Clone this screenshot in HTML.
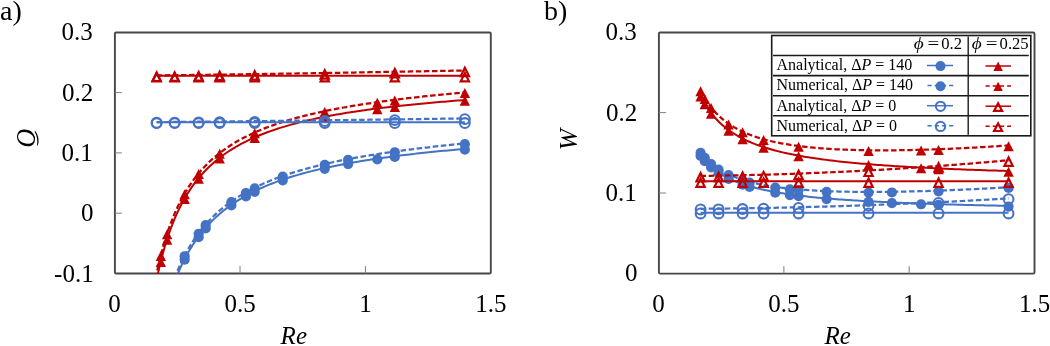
<!DOCTYPE html>
<html><head><meta charset="utf-8"><style>
html,body{margin:0;padding:0;background:#fff;width:1050px;height:346px;overflow:hidden;}
svg{display:block;will-change:transform;}
</style></head><body>
<svg width="1050" height="346" viewBox="0 0 1050 346">
<defs><clipPath id="ca"><rect x="114.9" y="32.5" width="375.9" height="241.0"/></clipPath>
<clipPath id="cb"><rect x="658.9" y="32.5" width="375.6" height="241.1"/></clipPath></defs>
<rect x="114.9" y="32.5" width="375.9" height="241.0" rx="1.3" ry="1.3" fill="none" stroke="#474747" stroke-width="1.9" stroke-linejoin="round"/>
<line x1="114.9" y1="213.20" x2="121.9" y2="213.20" stroke="#7f7f7f" stroke-width="1"/>
<line x1="114.9" y1="152.90" x2="121.9" y2="152.90" stroke="#7f7f7f" stroke-width="1"/>
<line x1="114.9" y1="92.60" x2="121.9" y2="92.60" stroke="#7f7f7f" stroke-width="1"/>
<line x1="240.00" y1="273.5" x2="240.00" y2="266.0" stroke="#7f7f7f" stroke-width="1"/>
<line x1="365.40" y1="273.5" x2="365.40" y2="266.0" stroke="#7f7f7f" stroke-width="1"/>
<text x="92.80" y="40.30" font-family="Liberation Serif" font-size="25" text-anchor="end">0.3</text>
<text x="93.20" y="100.60" font-family="Liberation Serif" font-size="25" text-anchor="end">0.2</text>
<text x="92.70" y="160.90" font-family="Liberation Serif" font-size="25" text-anchor="end">0.1</text>
<text x="93.50" y="221.20" font-family="Liberation Serif" font-size="25" text-anchor="end">0</text>
<text x="93.70" y="281.50" font-family="Liberation Serif" font-size="25" text-anchor="end">-0.1</text>
<text x="114.60" y="311.5" font-family="Liberation Serif" font-size="25" text-anchor="middle">0</text>
<text x="240.00" y="311.5" font-family="Liberation Serif" font-size="25" text-anchor="middle">0.5</text>
<text x="365.40" y="311.5" font-family="Liberation Serif" font-size="25" text-anchor="middle">1</text>
<text x="490.80" y="311.5" font-family="Liberation Serif" font-size="25" text-anchor="middle">1.5</text>
<text x="293.8" y="343.8" font-family="Liberation Serif" font-size="25" font-style="italic" text-anchor="middle">Re</text>
<text x="0" y="19.5" font-family="Liberation Serif" font-size="28">a)</text>
<clipPath id="qclip"><rect x="0" y="100" width="35.0" height="60"/></clipPath>
<g clip-path="url(#qclip)"><text transform="translate(34.6,138.4) rotate(-90) scale(1,1.08)" font-family="Liberation Serif" font-size="26" font-style="italic" text-anchor="middle">Q</text></g>
<path d="M35.2,130.7 Q40.2,137.5 37.8,145.6 L37.0,145.4 Q38.2,137.8 34.6,131.4 Z" fill="#000"/>
<g clip-path="url(#ca)">
</g>
<g>
<path d="M175.89,278.32 L178.30,272.49 L180.71,267.08 L183.11,262.05 L185.52,257.35 L187.93,252.97 L190.34,248.86 L192.75,245.01 L195.15,241.38 L197.56,237.96 L199.97,234.74 L202.38,231.69 L204.79,228.80 L207.19,226.06 L209.60,223.46 L212.01,220.98 L214.42,218.63 L216.83,216.38 L219.23,214.24 L221.64,212.19 L224.05,210.23 L226.46,208.36 L228.87,206.56 L231.27,204.84 L233.68,203.18 L236.09,201.59 L238.50,200.06 L240.91,198.59 L243.31,197.17 L245.72,195.81 L248.13,194.49 L250.54,193.22 L252.95,191.99 L255.35,190.80 L257.76,189.65 L260.17,188.54 L262.58,187.47 L264.99,186.43 L267.39,185.42 L269.80,184.44 L272.21,183.49 L274.62,182.57 L277.03,181.68 L279.43,180.81 L281.84,179.96 L284.25,179.14 L286.66,178.34 L289.07,177.56 L291.47,176.81 L293.88,176.07 L296.29,175.35 L298.70,174.65 L301.11,173.97 L303.51,173.30 L305.92,172.65 L308.33,172.02 L310.74,171.40 L313.15,170.80 L315.56,170.21 L317.96,169.63 L320.37,169.07 L322.78,168.52 L325.19,167.98 L327.60,167.45 L330.00,166.93 L332.41,166.43 L334.82,165.93 L337.23,165.45 L339.64,164.98 L342.04,164.51 L344.45,164.05 L346.86,163.61 L349.27,163.17 L351.68,162.74 L354.08,162.32 L356.49,161.91 L358.90,161.50 L361.31,161.10 L363.72,160.71 L366.12,160.33 L368.53,159.95 L370.94,159.58 L373.35,159.22 L375.76,158.86 L378.16,158.51 L380.57,158.17 L382.98,157.83 L385.39,157.49 L387.80,157.16 L390.20,156.84 L392.61,156.52 L395.02,156.21 L397.43,155.90 L399.84,155.60 L402.24,155.30 L404.65,155.01 L407.06,154.72 L409.47,154.44 L411.88,154.16 L414.28,153.88 L416.69,153.61 L419.10,153.34 L421.51,153.07 L423.92,152.81 L426.32,152.56 L428.73,152.30 L431.14,152.05 L433.55,151.81 L435.96,151.57 L438.36,151.33 L440.77,151.09 L443.18,150.86 L445.59,150.63 L448.00,150.40 L450.40,150.17 L452.81,149.95 L455.22,149.74 L457.63,149.52 L460.04,149.31 L462.44,149.10 L464.85,148.89" fill="none" stroke="#4472C4" stroke-width="2" clip-path="url(#ca)"/>
<circle cx="184.66" cy="259.71" r="5.10" fill="#4472C4"/>
<circle cx="198.66" cy="237.17" r="5.10" fill="#4472C4"/>
<circle cx="205.66" cy="228.48" r="5.10" fill="#4472C4"/>
<circle cx="231.36" cy="205.48" r="5.10" fill="#4472C4"/>
<circle cx="245.94" cy="196.39" r="5.10" fill="#4472C4"/>
<circle cx="254.71" cy="191.82" r="5.10" fill="#4472C4"/>
<circle cx="282.73" cy="180.36" r="5.10" fill="#4472C4"/>
<circle cx="324.74" cy="168.78" r="5.10" fill="#4472C4"/>
<circle cx="348.09" cy="164.08" r="5.10" fill="#4472C4"/>
<circle cx="377.30" cy="159.34" r="5.10" fill="#4472C4"/>
<circle cx="394.80" cy="156.94" r="5.10" fill="#4472C4"/>
<circle cx="464.85" cy="149.59" r="5.10" fill="#4472C4"/>
<path d="M174.48,278.32 L176.90,272.24 L179.32,266.60 L181.74,261.37 L184.16,256.50 L186.57,251.95 L188.99,247.70 L191.41,243.71 L193.83,239.96 L196.25,236.43 L198.67,233.10 L201.09,229.95 L203.51,226.97 L205.93,224.15 L208.35,221.47 L210.77,218.92 L213.19,216.50 L215.61,214.18 L218.03,211.98 L220.45,209.87 L222.87,207.86 L225.29,205.93 L227.71,204.08 L230.13,202.31 L232.55,200.60 L234.97,198.97 L237.39,197.39 L239.81,195.88 L242.23,194.42 L244.65,193.01 L247.07,191.65 L249.49,190.34 L251.91,189.08 L254.33,187.85 L256.75,186.67 L259.17,185.52 L261.59,184.41 L264.01,183.34 L266.43,182.29 L268.85,181.28 L271.27,180.30 L273.69,179.35 L276.11,178.42 L278.53,177.52 L280.95,176.64 L283.37,175.79 L285.79,174.96 L288.21,174.15 L290.63,173.36 L293.05,172.60 L295.47,171.85 L297.89,171.12 L300.31,170.41 L302.73,169.71 L305.15,169.03 L307.56,168.37 L309.98,167.72 L312.40,167.09 L314.82,166.47 L317.24,165.86 L319.66,165.27 L322.08,164.69 L324.50,164.12 L326.92,163.57 L329.34,163.02 L331.76,162.49 L334.18,161.97 L336.60,161.46 L339.02,160.95 L341.44,160.46 L343.86,159.98 L346.28,159.50 L348.70,159.04 L351.12,158.58 L353.54,158.13 L355.96,157.69 L358.38,157.26 L360.80,156.83 L363.22,156.41 L365.64,156.00 L368.06,155.60 L370.48,155.20 L372.90,154.81 L375.32,154.42 L377.74,154.04 L380.16,153.67 L382.58,153.30 L385.00,152.94 L387.42,152.59 L389.84,152.24 L392.26,151.89 L394.68,151.55 L397.10,151.22 L399.52,150.89 L401.94,150.56 L404.36,150.24 L406.78,149.92 L409.20,149.61 L411.62,149.30 L414.04,149.00 L416.46,148.70 L418.88,148.40 L421.30,148.11 L423.72,147.82 L426.14,147.54 L428.55,147.26 L430.97,146.98 L433.39,146.71 L435.81,146.44 L438.23,146.17 L440.65,145.91 L443.07,145.64 L445.49,145.39 L447.91,145.13 L450.33,144.88 L452.75,144.63 L455.17,144.39 L457.59,144.14 L460.01,143.90 L462.43,143.66 L464.85,143.43" fill="none" stroke="#4472C4" stroke-width="2.25" stroke-dasharray="5.5 2.6" clip-path="url(#ca)"/>
<circle cx="184.66" cy="256.23" r="5.10" fill="#4472C4"/>
<circle cx="198.66" cy="233.81" r="5.10" fill="#4472C4"/>
<circle cx="205.66" cy="225.16" r="5.10" fill="#4472C4"/>
<circle cx="231.36" cy="202.13" r="5.10" fill="#4472C4"/>
<circle cx="245.94" cy="192.98" r="5.10" fill="#4472C4"/>
<circle cx="254.71" cy="188.36" r="5.10" fill="#4472C4"/>
<circle cx="282.73" cy="176.71" r="5.10" fill="#4472C4"/>
<circle cx="324.74" cy="164.77" r="5.10" fill="#4472C4"/>
<circle cx="348.09" cy="159.85" r="5.10" fill="#4472C4"/>
<circle cx="394.80" cy="152.23" r="5.10" fill="#4472C4"/>
<circle cx="464.85" cy="144.13" r="5.10" fill="#4472C4"/>
<path d="M156.90,278.32 L159.47,266.79 L162.03,256.51 L164.60,247.28 L167.16,238.95 L169.73,231.39 L172.30,224.51 L174.86,218.21 L177.43,212.43 L180.00,207.09 L182.56,202.17 L185.13,197.59 L187.69,193.34 L190.26,189.38 L192.83,185.67 L195.39,182.21 L197.96,178.95 L200.53,175.89 L203.09,173.00 L205.66,170.28 L208.22,167.70 L210.79,165.27 L213.36,162.95 L215.92,160.76 L218.49,158.67 L221.06,156.68 L223.62,154.79 L226.19,152.98 L228.76,151.26 L231.32,149.61 L233.89,148.03 L236.45,146.51 L239.02,145.06 L241.59,143.67 L244.15,142.33 L246.72,141.04 L249.29,139.80 L251.85,138.61 L254.42,137.46 L256.98,136.35 L259.55,135.28 L262.12,134.25 L264.68,133.25 L267.25,132.29 L269.82,131.36 L272.38,130.45 L274.95,129.58 L277.51,128.73 L280.08,127.91 L282.65,127.11 L285.21,126.34 L287.78,125.59 L290.35,124.86 L292.91,124.16 L295.48,123.47 L298.04,122.80 L300.61,122.15 L303.18,121.52 L305.74,120.90 L308.31,120.30 L310.88,119.71 L313.44,119.14 L316.01,118.59 L318.57,118.05 L321.14,117.52 L323.71,117.00 L326.27,116.50 L328.84,116.01 L331.41,115.53 L333.97,115.06 L336.54,114.60 L339.10,114.15 L341.67,113.71 L344.24,113.28 L346.80,112.86 L349.37,112.45 L351.94,112.05 L354.50,111.65 L357.07,111.27 L359.63,110.89 L362.20,110.52 L364.77,110.16 L367.33,109.80 L369.90,109.45 L372.47,109.11 L375.03,108.78 L377.60,108.45 L380.17,108.12 L382.73,107.81 L385.30,107.50 L387.86,107.19 L390.43,106.89 L393.00,106.60 L395.56,106.31 L398.13,106.02 L400.70,105.74 L403.26,105.47 L405.83,105.20 L408.39,104.93 L410.96,104.67 L413.53,104.42 L416.09,104.16 L418.66,103.91 L421.23,103.67 L423.79,103.43 L426.36,103.19 L428.92,102.96 L431.49,102.73 L434.06,102.51 L436.62,102.28 L439.19,102.06 L441.76,101.85 L444.32,101.64 L446.89,101.43 L449.45,101.22 L452.02,101.02 L454.59,100.82 L457.15,100.62 L459.72,100.42 L462.29,100.23 L464.85,100.04" fill="none" stroke="#C00000" stroke-width="2" clip-path="url(#ca)"/>
<polygon points="160.82,256.91 166.02,266.91 155.62,266.91" fill="#C00000"/>
<polygon points="167.13,234.76 172.33,244.76 161.93,244.76" fill="#C00000"/>
<polygon points="184.66,194.11 189.86,204.11 179.46,204.11" fill="#C00000"/>
<polygon points="198.66,173.79 203.86,183.79 193.46,183.79" fill="#C00000"/>
<polygon points="219.68,153.44 224.88,163.44 214.48,163.44" fill="#C00000"/>
<polygon points="254.71,133.03 259.91,143.03 249.51,143.03" fill="#C00000"/>
<polygon points="324.74,112.50 329.94,122.50 319.54,122.50" fill="#C00000"/>
<polygon points="377.30,104.19 382.50,114.19 372.10,114.19" fill="#C00000"/>
<polygon points="394.80,102.09 400.00,112.09 389.60,112.09" fill="#C00000"/>
<polygon points="464.85,95.74 470.05,105.74 459.65,105.74" fill="#C00000"/>
<path d="M155.61,278.32 L158.19,266.25 L160.77,255.52 L163.34,245.92 L165.92,237.27 L168.50,229.45 L171.08,222.34 L173.65,215.84 L176.23,209.88 L178.81,204.40 L181.38,199.34 L183.96,194.64 L186.54,190.28 L189.11,186.22 L191.69,182.43 L194.27,178.87 L196.85,175.54 L199.42,172.41 L202.00,169.46 L204.58,166.67 L207.15,164.04 L209.73,161.54 L212.31,159.18 L214.88,156.93 L217.46,154.79 L220.04,152.76 L222.62,150.82 L225.19,148.97 L227.77,147.20 L230.35,145.50 L232.92,143.88 L235.50,142.33 L238.08,140.83 L240.65,139.40 L243.23,138.02 L245.81,136.69 L248.39,135.42 L250.96,134.19 L253.54,133.00 L256.12,131.85 L258.69,130.74 L261.27,129.67 L263.85,128.64 L266.42,127.64 L269.00,126.67 L271.58,125.73 L274.15,124.82 L276.73,123.93 L279.31,123.08 L281.89,122.24 L284.46,121.43 L287.04,120.65 L289.62,119.88 L292.19,119.14 L294.77,118.41 L297.35,117.71 L299.92,117.02 L302.50,116.35 L305.08,115.69 L307.66,115.06 L310.23,114.43 L312.81,113.83 L315.39,113.23 L317.96,112.65 L320.54,112.09 L323.12,111.53 L325.69,110.99 L328.27,110.46 L330.85,109.94 L333.43,109.44 L336.00,108.94 L338.58,108.45 L341.16,107.98 L343.73,107.51 L346.31,107.05 L348.89,106.60 L351.46,106.16 L354.04,105.73 L356.62,105.31 L359.20,104.89 L361.77,104.48 L364.35,104.08 L366.93,103.69 L369.50,103.30 L372.08,102.92 L374.66,102.54 L377.23,102.18 L379.81,101.81 L382.39,101.46 L384.97,101.11 L387.54,100.76 L390.12,100.42 L392.70,100.09 L395.27,99.76 L397.85,99.44 L400.43,99.12 L403.00,98.81 L405.58,98.50 L408.16,98.19 L410.74,97.89 L413.31,97.60 L415.89,97.30 L418.47,97.02 L421.04,96.73 L423.62,96.45 L426.20,96.18 L428.77,95.90 L431.35,95.63 L433.93,95.37 L436.51,95.11 L439.08,94.85 L441.66,94.59 L444.24,94.34 L446.81,94.09 L449.39,93.84 L451.97,93.60 L454.54,93.36 L457.12,93.12 L459.70,92.89 L462.27,92.65 L464.85,92.42" fill="none" stroke="#C00000" stroke-width="2.25" stroke-dasharray="5.5 2.6" clip-path="url(#ca)"/>
<polygon points="160.82,251.00 166.02,261.00 155.62,261.00" fill="#C00000"/>
<polygon points="167.13,229.21 172.33,239.21 161.93,239.21" fill="#C00000"/>
<polygon points="184.66,189.14 189.86,199.14 179.46,199.14" fill="#C00000"/>
<polygon points="198.66,169.02 203.86,179.02 193.46,179.02" fill="#C00000"/>
<polygon points="219.68,148.73 224.88,158.73 214.48,158.73" fill="#C00000"/>
<polygon points="254.71,128.17 259.91,138.17 249.51,138.17" fill="#C00000"/>
<polygon points="324.74,106.89 329.94,116.89 319.54,116.89" fill="#C00000"/>
<polygon points="377.30,97.87 382.50,107.87 372.10,107.87" fill="#C00000"/>
<polygon points="394.80,95.52 400.00,105.52 389.60,105.52" fill="#C00000"/>
<polygon points="464.85,88.12 470.05,98.12 459.65,98.12" fill="#C00000"/>
<path d="M156.63,122.33 L159.20,122.33 L161.77,122.33 L164.34,122.33 L166.90,122.33 L169.47,122.33 L172.04,122.33 L174.61,122.33 L177.18,122.33 L179.75,122.33 L182.32,122.33 L184.88,122.33 L187.45,122.33 L190.02,122.33 L192.59,122.33 L195.16,122.33 L197.73,122.33 L200.29,122.33 L202.86,122.33 L205.43,122.33 L208.00,122.33 L210.57,122.33 L213.14,122.33 L215.71,122.33 L218.27,122.33 L220.84,122.33 L223.41,122.33 L225.98,122.33 L228.55,122.33 L231.12,122.33 L233.69,122.33 L236.25,122.33 L238.82,122.33 L241.39,122.33 L243.96,122.33 L246.53,122.33 L249.10,122.33 L251.67,122.33 L254.23,122.33 L256.80,122.33 L259.37,122.33 L261.94,122.33 L264.51,122.33 L267.08,122.33 L269.64,122.33 L272.21,122.33 L274.78,122.33 L277.35,122.33 L279.92,122.33 L282.49,122.33 L285.06,122.33 L287.62,122.33 L290.19,122.33 L292.76,122.33 L295.33,122.33 L297.90,122.33 L300.47,122.33 L303.04,122.33 L305.60,122.33 L308.17,122.33 L310.74,122.33 L313.31,122.33 L315.88,122.33 L318.45,122.33 L321.02,122.33 L323.58,122.33 L326.15,122.33 L328.72,122.33 L331.29,122.33 L333.86,122.33 L336.43,122.33 L338.99,122.33 L341.56,122.33 L344.13,122.33 L346.70,122.33 L349.27,122.33 L351.84,122.33 L354.41,122.33 L356.97,122.33 L359.54,122.33 L362.11,122.33 L364.68,122.33 L367.25,122.33 L369.82,122.33 L372.39,122.33 L374.95,122.33 L377.52,122.33 L380.09,122.33 L382.66,122.33 L385.23,122.33 L387.80,122.33 L390.36,122.33 L392.93,122.33 L395.50,122.33 L398.07,122.33 L400.64,122.33 L403.21,122.33 L405.78,122.33 L408.34,122.33 L410.91,122.33 L413.48,122.33 L416.05,122.33 L418.62,122.33 L421.19,122.33 L423.76,122.33 L426.32,122.33 L428.89,122.33 L431.46,122.33 L434.03,122.33 L436.60,122.33 L439.17,122.33 L441.74,122.33 L444.30,122.33 L446.87,122.33 L449.44,122.33 L452.01,122.33 L454.58,122.33 L457.15,122.33 L459.71,122.33 L462.28,122.33 L464.85,122.33" fill="none" stroke="#4472C4" stroke-width="2" clip-path="url(#ca)"/>
<circle cx="156.63" cy="123.03" r="4.90" fill="none" stroke="#4472C4" stroke-width="2.05"/>
<circle cx="174.64" cy="123.03" r="4.90" fill="none" stroke="#4472C4" stroke-width="2.05"/>
<circle cx="198.66" cy="123.03" r="4.90" fill="none" stroke="#4472C4" stroke-width="2.05"/>
<circle cx="219.68" cy="123.03" r="4.90" fill="none" stroke="#4472C4" stroke-width="2.05"/>
<circle cx="254.71" cy="123.03" r="4.90" fill="none" stroke="#4472C4" stroke-width="2.05"/>
<circle cx="324.74" cy="123.03" r="4.90" fill="none" stroke="#4472C4" stroke-width="2.05"/>
<circle cx="394.80" cy="123.03" r="4.90" fill="none" stroke="#4472C4" stroke-width="2.05"/>
<circle cx="464.85" cy="123.03" r="4.90" fill="none" stroke="#4472C4" stroke-width="2.05"/>
<path d="M156.63,122.08 L159.20,122.06 L161.77,122.04 L164.34,122.02 L166.90,122.00 L169.47,121.98 L172.04,121.95 L174.61,121.93 L177.18,121.91 L179.75,121.89 L182.32,121.87 L184.88,121.84 L187.45,121.82 L190.02,121.80 L192.59,121.77 L195.16,121.75 L197.73,121.72 L200.29,121.70 L202.86,121.67 L205.43,121.65 L208.00,121.62 L210.57,121.60 L213.14,121.57 L215.71,121.55 L218.27,121.52 L220.84,121.50 L223.41,121.47 L225.98,121.44 L228.55,121.42 L231.12,121.39 L233.69,121.36 L236.25,121.34 L238.82,121.31 L241.39,121.28 L243.96,121.25 L246.53,121.23 L249.10,121.20 L251.67,121.17 L254.23,121.14 L256.80,121.11 L259.37,121.09 L261.94,121.06 L264.51,121.03 L267.08,121.00 L269.64,120.97 L272.21,120.94 L274.78,120.91 L277.35,120.88 L279.92,120.85 L282.49,120.82 L285.06,120.79 L287.62,120.76 L290.19,120.73 L292.76,120.70 L295.33,120.67 L297.90,120.64 L300.47,120.61 L303.04,120.58 L305.60,120.55 L308.17,120.51 L310.74,120.48 L313.31,120.45 L315.88,120.42 L318.45,120.39 L321.02,120.36 L323.58,120.32 L326.15,120.29 L328.72,120.26 L331.29,120.23 L333.86,120.20 L336.43,120.16 L338.99,120.13 L341.56,120.10 L344.13,120.07 L346.70,120.03 L349.27,120.00 L351.84,119.97 L354.41,119.93 L356.97,119.90 L359.54,119.87 L362.11,119.83 L364.68,119.80 L367.25,119.76 L369.82,119.73 L372.39,119.70 L374.95,119.66 L377.52,119.63 L380.09,119.59 L382.66,119.56 L385.23,119.52 L387.80,119.49 L390.36,119.46 L392.93,119.42 L395.50,119.39 L398.07,119.35 L400.64,119.32 L403.21,119.28 L405.78,119.25 L408.34,119.21 L410.91,119.17 L413.48,119.14 L416.05,119.10 L418.62,119.07 L421.19,119.03 L423.76,119.00 L426.32,118.96 L428.89,118.92 L431.46,118.89 L434.03,118.85 L436.60,118.81 L439.17,118.78 L441.74,118.74 L444.30,118.70 L446.87,118.67 L449.44,118.63 L452.01,118.59 L454.58,118.56 L457.15,118.52 L459.71,118.48 L462.28,118.45 L464.85,118.41" fill="none" stroke="#4472C4" stroke-width="2.25" stroke-dasharray="5.5 2.6" clip-path="url(#ca)"/>
<circle cx="156.63" cy="122.78" r="4.90" fill="none" stroke="#4472C4" stroke-width="2.05"/>
<circle cx="174.64" cy="122.63" r="4.90" fill="none" stroke="#4472C4" stroke-width="2.05"/>
<circle cx="198.66" cy="122.41" r="4.90" fill="none" stroke="#4472C4" stroke-width="2.05"/>
<circle cx="219.68" cy="122.21" r="4.90" fill="none" stroke="#4472C4" stroke-width="2.05"/>
<circle cx="254.71" cy="121.84" r="4.90" fill="none" stroke="#4472C4" stroke-width="2.05"/>
<circle cx="324.74" cy="121.01" r="4.90" fill="none" stroke="#4472C4" stroke-width="2.05"/>
<circle cx="394.80" cy="120.10" r="4.90" fill="none" stroke="#4472C4" stroke-width="2.05"/>
<circle cx="464.85" cy="119.11" r="4.90" fill="none" stroke="#4472C4" stroke-width="2.05"/>
<path d="M156.63,75.72 L159.20,75.72 L161.77,75.72 L164.34,75.72 L166.90,75.72 L169.47,75.72 L172.04,75.72 L174.61,75.72 L177.18,75.72 L179.75,75.72 L182.32,75.72 L184.88,75.72 L187.45,75.72 L190.02,75.72 L192.59,75.72 L195.16,75.72 L197.73,75.72 L200.29,75.72 L202.86,75.72 L205.43,75.72 L208.00,75.72 L210.57,75.72 L213.14,75.72 L215.71,75.72 L218.27,75.72 L220.84,75.72 L223.41,75.72 L225.98,75.72 L228.55,75.72 L231.12,75.72 L233.69,75.72 L236.25,75.72 L238.82,75.72 L241.39,75.72 L243.96,75.72 L246.53,75.72 L249.10,75.72 L251.67,75.72 L254.23,75.72 L256.80,75.72 L259.37,75.72 L261.94,75.72 L264.51,75.72 L267.08,75.72 L269.64,75.72 L272.21,75.72 L274.78,75.72 L277.35,75.72 L279.92,75.72 L282.49,75.72 L285.06,75.72 L287.62,75.72 L290.19,75.72 L292.76,75.72 L295.33,75.72 L297.90,75.72 L300.47,75.72 L303.04,75.72 L305.60,75.72 L308.17,75.72 L310.74,75.72 L313.31,75.72 L315.88,75.72 L318.45,75.72 L321.02,75.72 L323.58,75.72 L326.15,75.72 L328.72,75.72 L331.29,75.72 L333.86,75.72 L336.43,75.72 L338.99,75.72 L341.56,75.72 L344.13,75.72 L346.70,75.72 L349.27,75.72 L351.84,75.72 L354.41,75.72 L356.97,75.72 L359.54,75.72 L362.11,75.72 L364.68,75.72 L367.25,75.72 L369.82,75.72 L372.39,75.72 L374.95,75.72 L377.52,75.72 L380.09,75.72 L382.66,75.72 L385.23,75.72 L387.80,75.72 L390.36,75.72 L392.93,75.72 L395.50,75.72 L398.07,75.72 L400.64,75.72 L403.21,75.72 L405.78,75.72 L408.34,75.72 L410.91,75.72 L413.48,75.72 L416.05,75.72 L418.62,75.72 L421.19,75.72 L423.76,75.72 L426.32,75.72 L428.89,75.72 L431.46,75.72 L434.03,75.72 L436.60,75.72 L439.17,75.72 L441.74,75.72 L444.30,75.72 L446.87,75.72 L449.44,75.72 L452.01,75.72 L454.58,75.72 L457.15,75.72 L459.71,75.72 L462.28,75.72 L464.85,75.72" fill="none" stroke="#C00000" stroke-width="2" clip-path="url(#ca)"/>
<polygon points="156.63,72.91 160.76,81.32 152.50,81.32" fill="none" stroke="#C00000" stroke-width="2.20" stroke-linejoin="miter"/>
<polygon points="174.64,72.91 178.78,81.32 170.51,81.32" fill="none" stroke="#C00000" stroke-width="2.20" stroke-linejoin="miter"/>
<polygon points="198.66,72.91 202.79,81.32 194.53,81.32" fill="none" stroke="#C00000" stroke-width="2.20" stroke-linejoin="miter"/>
<polygon points="219.68,72.91 223.82,81.32 215.55,81.32" fill="none" stroke="#C00000" stroke-width="2.20" stroke-linejoin="miter"/>
<polygon points="254.71,72.91 258.84,81.32 250.58,81.32" fill="none" stroke="#C00000" stroke-width="2.20" stroke-linejoin="miter"/>
<polygon points="324.74,72.91 328.87,81.32 320.61,81.32" fill="none" stroke="#C00000" stroke-width="2.20" stroke-linejoin="miter"/>
<polygon points="394.80,72.91 398.93,81.32 390.66,81.32" fill="none" stroke="#C00000" stroke-width="2.20" stroke-linejoin="miter"/>
<polygon points="464.85,72.91 468.99,81.32 460.72,81.32" fill="none" stroke="#C00000" stroke-width="2.20" stroke-linejoin="miter"/>
<path d="M156.63,75.38 L159.20,75.36 L161.77,75.33 L164.34,75.30 L166.90,75.27 L169.47,75.24 L172.04,75.22 L174.61,75.19 L177.18,75.16 L179.75,75.13 L182.32,75.10 L184.88,75.07 L187.45,75.03 L190.02,75.00 L192.59,74.97 L195.16,74.94 L197.73,74.91 L200.29,74.87 L202.86,74.84 L205.43,74.81 L208.00,74.77 L210.57,74.74 L213.14,74.71 L215.71,74.67 L218.27,74.64 L220.84,74.60 L223.41,74.57 L225.98,74.53 L228.55,74.50 L231.12,74.46 L233.69,74.43 L236.25,74.39 L238.82,74.35 L241.39,74.32 L243.96,74.28 L246.53,74.24 L249.10,74.20 L251.67,74.17 L254.23,74.13 L256.80,74.09 L259.37,74.05 L261.94,74.01 L264.51,73.98 L267.08,73.94 L269.64,73.90 L272.21,73.86 L274.78,73.82 L277.35,73.78 L279.92,73.74 L282.49,73.70 L285.06,73.66 L287.62,73.62 L290.19,73.58 L292.76,73.54 L295.33,73.50 L297.90,73.46 L300.47,73.41 L303.04,73.37 L305.60,73.33 L308.17,73.29 L310.74,73.25 L313.31,73.21 L315.88,73.16 L318.45,73.12 L321.02,73.08 L323.58,73.04 L326.15,72.99 L328.72,72.95 L331.29,72.91 L333.86,72.86 L336.43,72.82 L338.99,72.78 L341.56,72.73 L344.13,72.69 L346.70,72.64 L349.27,72.60 L351.84,72.55 L354.41,72.51 L356.97,72.47 L359.54,72.42 L362.11,72.38 L364.68,72.33 L367.25,72.29 L369.82,72.24 L372.39,72.19 L374.95,72.15 L377.52,72.10 L380.09,72.06 L382.66,72.01 L385.23,71.96 L387.80,71.92 L390.36,71.87 L392.93,71.82 L395.50,71.78 L398.07,71.73 L400.64,71.68 L403.21,71.64 L405.78,71.59 L408.34,71.54 L410.91,71.49 L413.48,71.45 L416.05,71.40 L418.62,71.35 L421.19,71.30 L423.76,71.26 L426.32,71.21 L428.89,71.16 L431.46,71.11 L434.03,71.06 L436.60,71.01 L439.17,70.96 L441.74,70.92 L444.30,70.87 L446.87,70.82 L449.44,70.77 L452.01,70.72 L454.58,70.67 L457.15,70.62 L459.71,70.57 L462.28,70.52 L464.85,70.47" fill="none" stroke="#C00000" stroke-width="2.25" stroke-dasharray="5.5 2.6" clip-path="url(#ca)"/>
<polygon points="156.63,72.58 160.76,80.98 152.50,80.98" fill="none" stroke="#C00000" stroke-width="2.20" stroke-linejoin="miter"/>
<polygon points="174.64,72.38 178.78,80.79 170.51,80.79" fill="none" stroke="#C00000" stroke-width="2.20" stroke-linejoin="miter"/>
<polygon points="198.66,72.09 202.79,80.50 194.53,80.50" fill="none" stroke="#C00000" stroke-width="2.20" stroke-linejoin="miter"/>
<polygon points="219.68,71.81 223.82,80.22 215.55,80.22" fill="none" stroke="#C00000" stroke-width="2.20" stroke-linejoin="miter"/>
<polygon points="254.71,71.31 258.84,79.72 250.58,79.72" fill="none" stroke="#C00000" stroke-width="2.20" stroke-linejoin="miter"/>
<polygon points="324.74,70.21 328.87,78.62 320.61,78.62" fill="none" stroke="#C00000" stroke-width="2.20" stroke-linejoin="miter"/>
<polygon points="394.80,68.98 398.93,77.39 390.66,77.39" fill="none" stroke="#C00000" stroke-width="2.20" stroke-linejoin="miter"/>
<polygon points="464.85,67.66 468.99,76.07 460.72,76.07" fill="none" stroke="#C00000" stroke-width="2.20" stroke-linejoin="miter"/>
</g>
<rect x="658.9" y="32.5" width="375.6" height="241.1" rx="1.3" ry="1.3" fill="none" stroke="#474747" stroke-width="1.9" stroke-linejoin="round"/>
<line x1="658.9" y1="193.00" x2="665.9" y2="193.00" stroke="#7f7f7f" stroke-width="1"/>
<line x1="658.9" y1="112.60" x2="665.9" y2="112.60" stroke="#7f7f7f" stroke-width="1"/>
<line x1="783.90" y1="273.6" x2="783.90" y2="266.1" stroke="#7f7f7f" stroke-width="1"/>
<line x1="909.20" y1="273.6" x2="909.20" y2="266.1" stroke="#7f7f7f" stroke-width="1"/>
<text x="636.80" y="40.20" font-family="Liberation Serif" font-size="25" text-anchor="end">0.3</text>
<text x="637.20" y="120.60" font-family="Liberation Serif" font-size="25" text-anchor="end">0.2</text>
<text x="636.70" y="201.00" font-family="Liberation Serif" font-size="25" text-anchor="end">0.1</text>
<text x="637.50" y="281.40" font-family="Liberation Serif" font-size="25" text-anchor="end">0</text>
<text x="658.60" y="311.5" font-family="Liberation Serif" font-size="25" text-anchor="middle">0</text>
<text x="783.90" y="311.5" font-family="Liberation Serif" font-size="25" text-anchor="middle">0.5</text>
<text x="909.20" y="311.5" font-family="Liberation Serif" font-size="25" text-anchor="middle">1</text>
<text x="1034.50" y="311.5" font-family="Liberation Serif" font-size="25" text-anchor="middle">1.5</text>
<text x="837.6" y="343.8" font-family="Liberation Serif" font-size="25" font-style="italic" text-anchor="middle">Re</text>
<text x="544" y="19.5" font-family="Liberation Serif" font-size="28">b)</text>
<text transform="translate(576.8,139.5) rotate(-90)" font-family="Liberation Serif" font-size="25.5" font-style="italic" text-anchor="middle">W</text>
<path d="M700.60,155.21 L703.16,158.52 L705.73,161.48 L708.30,164.13 L710.86,166.52 L713.43,168.68 L716.00,170.65 L718.56,172.46 L721.13,174.11 L723.69,175.64 L726.26,177.04 L728.83,178.35 L731.39,179.56 L733.96,180.70 L736.53,181.75 L739.09,182.74 L741.66,183.67 L744.23,184.54 L746.79,185.36 L749.36,186.14 L751.93,186.87 L754.49,187.56 L757.06,188.22 L759.63,188.85 L762.19,189.44 L764.76,190.00 L767.32,190.54 L769.89,191.05 L772.46,191.54 L775.02,192.01 L777.59,192.46 L780.16,192.89 L782.72,193.30 L785.29,193.69 L787.86,194.07 L790.42,194.44 L792.99,194.79 L795.56,195.12 L798.12,195.45 L800.69,195.76 L803.26,196.06 L805.82,196.36 L808.39,196.64 L810.95,196.91 L813.52,197.17 L816.09,197.43 L818.65,197.67 L821.22,197.91 L823.79,198.14 L826.35,198.37 L828.92,198.58 L831.49,198.79 L834.05,199.00 L836.62,199.20 L839.19,199.39 L841.75,199.58 L844.32,199.76 L846.89,199.94 L849.45,200.11 L852.02,200.28 L854.58,200.44 L857.15,200.60 L859.72,200.76 L862.28,200.91 L864.85,201.06 L867.42,201.20 L869.98,201.34 L872.55,201.48 L875.12,201.61 L877.68,201.74 L880.25,201.87 L882.82,202.00 L885.38,202.12 L887.95,202.24 L890.52,202.35 L893.08,202.47 L895.65,202.58 L898.21,202.69 L900.78,202.80 L903.35,202.90 L905.91,203.00 L908.48,203.10 L911.05,203.20 L913.61,203.30 L916.18,203.39 L918.75,203.48 L921.31,203.58 L923.88,203.66 L926.45,203.75 L929.01,203.84 L931.58,203.92 L934.15,204.00 L936.71,204.08 L939.28,204.16 L941.84,204.24 L944.41,204.32 L946.98,204.39 L949.54,204.47 L952.11,204.54 L954.68,204.61 L957.24,204.68 L959.81,204.75 L962.38,204.82 L964.94,204.89 L967.51,204.95 L970.08,205.02 L972.64,205.08 L975.21,205.14 L977.78,205.20 L980.34,205.26 L982.91,205.32 L985.47,205.38 L988.04,205.44 L990.61,205.50 L993.17,205.55 L995.74,205.61 L998.31,205.66 L1000.87,205.71 L1003.44,205.77 L1006.01,205.82 L1008.57,205.87" fill="none" stroke="#4472C4" stroke-width="2"/>
<circle cx="700.60" cy="155.91" r="5.10" fill="#4472C4"/>
<circle cx="704.79" cy="161.13" r="5.10" fill="#4472C4"/>
<circle cx="711.09" cy="167.41" r="5.10" fill="#4472C4"/>
<circle cx="718.60" cy="173.18" r="5.10" fill="#4472C4"/>
<circle cx="728.60" cy="178.94" r="5.10" fill="#4472C4"/>
<circle cx="742.59" cy="184.69" r="5.10" fill="#4472C4"/>
<circle cx="749.59" cy="186.91" r="5.10" fill="#4472C4"/>
<circle cx="775.27" cy="192.75" r="5.10" fill="#4472C4"/>
<circle cx="789.83" cy="195.05" r="5.10" fill="#4472C4"/>
<circle cx="798.60" cy="196.21" r="5.10" fill="#4472C4"/>
<circle cx="826.59" cy="199.09" r="5.10" fill="#4472C4"/>
<circle cx="868.57" cy="201.96" r="5.10" fill="#4472C4"/>
<circle cx="891.91" cy="203.12" r="5.10" fill="#4472C4"/>
<circle cx="921.09" cy="204.27" r="5.10" fill="#4472C4"/>
<circle cx="938.57" cy="204.84" r="5.10" fill="#4472C4"/>
<circle cx="1008.57" cy="206.57" r="5.10" fill="#4472C4"/>
<path d="M700.60,152.09 L703.16,155.35 L705.73,158.25 L708.30,160.84 L710.86,163.17 L713.43,165.28 L716.00,167.19 L718.56,168.93 L721.13,170.52 L723.69,171.98 L726.26,173.32 L728.83,174.56 L731.39,175.71 L733.96,176.77 L736.53,177.76 L739.09,178.67 L741.66,179.53 L744.23,180.33 L746.79,181.07 L749.36,181.77 L751.93,182.43 L754.49,183.04 L757.06,183.62 L759.63,184.16 L762.19,184.67 L764.76,185.15 L767.32,185.60 L769.89,186.02 L772.46,186.43 L775.02,186.80 L777.59,187.16 L780.16,187.50 L782.72,187.82 L785.29,188.12 L787.86,188.40 L790.42,188.66 L792.99,188.92 L795.56,189.15 L798.12,189.38 L800.69,189.59 L803.26,189.79 L805.82,189.97 L808.39,190.15 L810.95,190.31 L813.52,190.47 L816.09,190.61 L818.65,190.75 L821.22,190.87 L823.79,190.99 L826.35,191.10 L828.92,191.20 L831.49,191.29 L834.05,191.38 L836.62,191.46 L839.19,191.53 L841.75,191.59 L844.32,191.65 L846.89,191.71 L849.45,191.75 L852.02,191.79 L854.58,191.83 L857.15,191.86 L859.72,191.88 L862.28,191.90 L864.85,191.91 L867.42,191.92 L869.98,191.93 L872.55,191.92 L875.12,191.92 L877.68,191.91 L880.25,191.90 L882.82,191.88 L885.38,191.86 L887.95,191.83 L890.52,191.80 L893.08,191.77 L895.65,191.73 L898.21,191.69 L900.78,191.64 L903.35,191.60 L905.91,191.54 L908.48,191.49 L911.05,191.43 L913.61,191.37 L916.18,191.30 L918.75,191.24 L921.31,191.16 L923.88,191.09 L926.45,191.01 L929.01,190.93 L931.58,190.85 L934.15,190.77 L936.71,190.68 L939.28,190.59 L941.84,190.49 L944.41,190.40 L946.98,190.30 L949.54,190.19 L952.11,190.09 L954.68,189.98 L957.24,189.87 L959.81,189.76 L962.38,189.65 L964.94,189.53 L967.51,189.41 L970.08,189.29 L972.64,189.17 L975.21,189.04 L977.78,188.91 L980.34,188.78 L982.91,188.65 L985.47,188.52 L988.04,188.38 L990.61,188.24 L993.17,188.10 L995.74,187.95 L998.31,187.81 L1000.87,187.66 L1003.44,187.51 L1006.01,187.36 L1008.57,187.21" fill="none" stroke="#4472C4" stroke-width="2.25" stroke-dasharray="5.5 2.6"/>
<circle cx="700.60" cy="152.79" r="5.10" fill="#4472C4"/>
<circle cx="704.79" cy="157.92" r="5.10" fill="#4472C4"/>
<circle cx="711.09" cy="164.06" r="5.10" fill="#4472C4"/>
<circle cx="718.60" cy="169.65" r="5.10" fill="#4472C4"/>
<circle cx="728.60" cy="175.16" r="5.10" fill="#4472C4"/>
<circle cx="742.59" cy="180.53" r="5.10" fill="#4472C4"/>
<circle cx="749.59" cy="182.53" r="5.10" fill="#4472C4"/>
<circle cx="775.27" cy="187.54" r="5.10" fill="#4472C4"/>
<circle cx="789.83" cy="189.30" r="5.10" fill="#4472C4"/>
<circle cx="798.60" cy="190.12" r="5.10" fill="#4472C4"/>
<circle cx="826.59" cy="191.81" r="5.10" fill="#4472C4"/>
<circle cx="868.57" cy="192.62" r="5.10" fill="#4472C4"/>
<circle cx="891.91" cy="192.48" r="5.10" fill="#4472C4"/>
<circle cx="938.57" cy="191.31" r="5.10" fill="#4472C4"/>
<circle cx="1008.57" cy="187.91" r="5.10" fill="#4472C4"/>
<path d="M700.60,95.86 L703.16,100.78 L705.73,105.16 L708.30,109.09 L710.86,112.64 L713.43,115.85 L716.00,118.78 L718.56,121.45 L721.13,123.91 L723.69,126.17 L726.26,128.26 L728.83,130.19 L731.39,131.99 L733.96,133.67 L736.53,135.24 L739.09,136.71 L741.66,138.08 L744.23,139.38 L746.79,140.60 L749.36,141.75 L751.93,142.83 L754.49,143.86 L757.06,144.84 L759.63,145.76 L762.19,146.64 L764.76,147.48 L767.32,148.28 L769.89,149.04 L772.46,149.76 L775.02,150.46 L777.59,151.12 L780.16,151.76 L782.72,152.37 L785.29,152.95 L787.86,153.52 L790.42,154.06 L792.99,154.58 L795.56,155.08 L798.12,155.56 L800.69,156.02 L803.26,156.47 L805.82,156.90 L808.39,157.32 L810.95,157.72 L813.52,158.11 L816.09,158.49 L818.65,158.85 L821.22,159.21 L823.79,159.55 L826.35,159.88 L828.92,160.20 L831.49,160.52 L834.05,160.82 L836.62,161.12 L839.19,161.40 L841.75,161.68 L844.32,161.95 L846.89,162.21 L849.45,162.47 L852.02,162.72 L854.58,162.96 L857.15,163.20 L859.72,163.43 L862.28,163.65 L864.85,163.87 L867.42,164.09 L869.98,164.30 L872.55,164.50 L875.12,164.70 L877.68,164.89 L880.25,165.08 L882.82,165.27 L885.38,165.45 L887.95,165.62 L890.52,165.80 L893.08,165.97 L895.65,166.13 L898.21,166.29 L900.78,166.45 L903.35,166.61 L905.91,166.76 L908.48,166.91 L911.05,167.06 L913.61,167.20 L916.18,167.34 L918.75,167.48 L921.31,167.61 L923.88,167.74 L926.45,167.87 L929.01,168.00 L931.58,168.12 L934.15,168.25 L936.71,168.37 L939.28,168.48 L941.84,168.60 L944.41,168.71 L946.98,168.83 L949.54,168.93 L952.11,169.04 L954.68,169.15 L957.24,169.25 L959.81,169.35 L962.38,169.46 L964.94,169.55 L967.51,169.65 L970.08,169.75 L972.64,169.84 L975.21,169.93 L977.78,170.03 L980.34,170.11 L982.91,170.20 L985.47,170.29 L988.04,170.38 L990.61,170.46 L993.17,170.54 L995.74,170.62 L998.31,170.70 L1000.87,170.78 L1003.44,170.86 L1006.01,170.94 L1008.57,171.01" fill="none" stroke="#C00000" stroke-width="2"/>
<polygon points="700.60,91.56 705.80,101.56 695.40,101.56" fill="#C00000"/>
<polygon points="704.79,99.31 709.99,109.31 699.59,109.31" fill="#C00000"/>
<polygon points="711.09,108.63 716.29,118.63 705.89,118.63" fill="#C00000"/>
<polygon points="728.60,125.73 733.80,135.73 723.40,135.73" fill="#C00000"/>
<polygon points="742.59,134.26 747.79,144.26 737.39,144.26" fill="#C00000"/>
<polygon points="763.60,142.81 768.80,152.81 758.40,152.81" fill="#C00000"/>
<polygon points="798.60,151.34 803.80,161.34 793.40,161.34" fill="#C00000"/>
<polygon points="868.57,159.88 873.77,169.88 863.37,169.88" fill="#C00000"/>
<polygon points="921.09,163.30 926.29,173.30 915.89,173.30" fill="#C00000"/>
<polygon points="938.57,164.15 943.77,174.15 933.37,174.15" fill="#C00000"/>
<polygon points="1008.57,166.71 1013.77,176.71 1003.37,176.71" fill="#C00000"/>
<path d="M700.60,90.59 L703.16,95.42 L705.73,99.71 L708.30,103.55 L710.86,107.00 L713.43,110.12 L716.00,112.95 L718.56,115.52 L721.13,117.88 L723.69,120.04 L726.26,122.03 L728.83,123.87 L731.39,125.56 L733.96,127.14 L736.53,128.60 L739.09,129.96 L741.66,131.22 L744.23,132.41 L746.79,133.52 L749.36,134.55 L751.93,135.53 L754.49,136.44 L757.06,137.30 L759.63,138.10 L762.19,138.86 L764.76,139.58 L767.32,140.25 L769.89,140.89 L772.46,141.49 L775.02,142.06 L777.59,142.60 L780.16,143.10 L782.72,143.58 L785.29,144.04 L787.86,144.47 L790.42,144.87 L792.99,145.26 L795.56,145.62 L798.12,145.96 L800.69,146.29 L803.26,146.59 L805.82,146.88 L808.39,147.16 L810.95,147.41 L813.52,147.66 L816.09,147.89 L818.65,148.10 L821.22,148.31 L823.79,148.50 L826.35,148.67 L828.92,148.84 L831.49,149.00 L834.05,149.14 L836.62,149.28 L839.19,149.41 L841.75,149.52 L844.32,149.63 L846.89,149.73 L849.45,149.82 L852.02,149.90 L854.58,149.98 L857.15,150.05 L859.72,150.10 L862.28,150.16 L864.85,150.20 L867.42,150.24 L869.98,150.27 L872.55,150.30 L875.12,150.32 L877.68,150.33 L880.25,150.34 L882.82,150.34 L885.38,150.34 L887.95,150.33 L890.52,150.32 L893.08,150.30 L895.65,150.27 L898.21,150.24 L900.78,150.21 L903.35,150.17 L905.91,150.13 L908.48,150.08 L911.05,150.03 L913.61,149.97 L916.18,149.91 L918.75,149.85 L921.31,149.78 L923.88,149.71 L926.45,149.63 L929.01,149.55 L931.58,149.47 L934.15,149.38 L936.71,149.29 L939.28,149.19 L941.84,149.09 L944.41,148.99 L946.98,148.89 L949.54,148.78 L952.11,148.67 L954.68,148.55 L957.24,148.43 L959.81,148.31 L962.38,148.19 L964.94,148.06 L967.51,147.93 L970.08,147.80 L972.64,147.66 L975.21,147.52 L977.78,147.38 L980.34,147.23 L982.91,147.09 L985.47,146.94 L988.04,146.78 L990.61,146.63 L993.17,146.47 L995.74,146.31 L998.31,146.15 L1000.87,145.98 L1003.44,145.81 L1006.01,145.64 L1008.57,145.47" fill="none" stroke="#C00000" stroke-width="2.25" stroke-dasharray="5.5 2.6"/>
<polygon points="700.60,86.29 705.80,96.29 695.40,96.29" fill="#C00000"/>
<polygon points="704.79,93.89 709.99,103.89 699.59,103.89" fill="#C00000"/>
<polygon points="711.09,102.98 716.29,112.98 705.89,112.98" fill="#C00000"/>
<polygon points="728.60,119.41 733.80,129.41 723.40,129.41" fill="#C00000"/>
<polygon points="742.59,127.36 747.79,137.36 737.39,137.36" fill="#C00000"/>
<polygon points="763.60,134.96 768.80,144.96 758.40,144.96" fill="#C00000"/>
<polygon points="798.60,141.72 803.80,151.72 793.40,151.72" fill="#C00000"/>
<polygon points="868.57,145.96 873.77,155.96 863.37,155.96" fill="#C00000"/>
<polygon points="921.09,145.48 926.29,155.48 915.89,155.48" fill="#C00000"/>
<polygon points="938.57,144.92 943.77,154.92 933.37,154.92" fill="#C00000"/>
<polygon points="1008.57,141.17 1013.77,151.17 1003.37,151.17" fill="#C00000"/>
<path d="M700.60,212.78 L703.16,212.78 L705.73,212.78 L708.30,212.78 L710.86,212.78 L713.43,212.78 L716.00,212.78 L718.56,212.78 L721.13,212.78 L723.69,212.78 L726.26,212.78 L728.83,212.78 L731.39,212.78 L733.96,212.78 L736.53,212.78 L739.09,212.78 L741.66,212.78 L744.23,212.78 L746.79,212.78 L749.36,212.78 L751.93,212.78 L754.49,212.78 L757.06,212.78 L759.63,212.78 L762.19,212.78 L764.76,212.78 L767.32,212.78 L769.89,212.78 L772.46,212.78 L775.02,212.78 L777.59,212.78 L780.16,212.78 L782.72,212.78 L785.29,212.78 L787.86,212.78 L790.42,212.78 L792.99,212.78 L795.56,212.78 L798.12,212.78 L800.69,212.78 L803.26,212.78 L805.82,212.78 L808.39,212.78 L810.95,212.78 L813.52,212.78 L816.09,212.78 L818.65,212.78 L821.22,212.78 L823.79,212.78 L826.35,212.78 L828.92,212.78 L831.49,212.78 L834.05,212.78 L836.62,212.78 L839.19,212.78 L841.75,212.78 L844.32,212.78 L846.89,212.78 L849.45,212.78 L852.02,212.78 L854.58,212.78 L857.15,212.78 L859.72,212.78 L862.28,212.78 L864.85,212.78 L867.42,212.78 L869.98,212.78 L872.55,212.78 L875.12,212.78 L877.68,212.78 L880.25,212.78 L882.82,212.78 L885.38,212.78 L887.95,212.78 L890.52,212.78 L893.08,212.78 L895.65,212.78 L898.21,212.78 L900.78,212.78 L903.35,212.78 L905.91,212.78 L908.48,212.78 L911.05,212.78 L913.61,212.78 L916.18,212.78 L918.75,212.78 L921.31,212.78 L923.88,212.78 L926.45,212.78 L929.01,212.78 L931.58,212.78 L934.15,212.78 L936.71,212.78 L939.28,212.78 L941.84,212.78 L944.41,212.78 L946.98,212.78 L949.54,212.78 L952.11,212.78 L954.68,212.78 L957.24,212.78 L959.81,212.78 L962.38,212.78 L964.94,212.78 L967.51,212.78 L970.08,212.78 L972.64,212.78 L975.21,212.78 L977.78,212.78 L980.34,212.78 L982.91,212.78 L985.47,212.78 L988.04,212.78 L990.61,212.78 L993.17,212.78 L995.74,212.78 L998.31,212.78 L1000.87,212.78 L1003.44,212.78 L1006.01,212.78 L1008.57,212.78" fill="none" stroke="#4472C4" stroke-width="2"/>
<circle cx="700.60" cy="213.48" r="4.90" fill="none" stroke="#4472C4" stroke-width="2.05"/>
<circle cx="718.60" cy="213.48" r="4.90" fill="none" stroke="#4472C4" stroke-width="2.05"/>
<circle cx="742.59" cy="213.48" r="4.90" fill="none" stroke="#4472C4" stroke-width="2.05"/>
<circle cx="763.60" cy="213.48" r="4.90" fill="none" stroke="#4472C4" stroke-width="2.05"/>
<circle cx="798.60" cy="213.48" r="4.90" fill="none" stroke="#4472C4" stroke-width="2.05"/>
<circle cx="868.57" cy="213.48" r="4.90" fill="none" stroke="#4472C4" stroke-width="2.05"/>
<circle cx="938.57" cy="213.48" r="4.90" fill="none" stroke="#4472C4" stroke-width="2.05"/>
<circle cx="1008.57" cy="213.48" r="4.90" fill="none" stroke="#4472C4" stroke-width="2.05"/>
<path d="M700.60,208.77 L703.16,208.75 L705.73,208.73 L708.30,208.71 L710.86,208.68 L713.43,208.66 L716.00,208.64 L718.56,208.61 L721.13,208.58 L723.69,208.56 L726.26,208.53 L728.83,208.50 L731.39,208.46 L733.96,208.43 L736.53,208.40 L739.09,208.36 L741.66,208.33 L744.23,208.29 L746.79,208.25 L749.36,208.21 L751.93,208.17 L754.49,208.13 L757.06,208.09 L759.63,208.04 L762.19,208.00 L764.76,207.95 L767.32,207.91 L769.89,207.86 L772.46,207.81 L775.02,207.76 L777.59,207.70 L780.16,207.65 L782.72,207.60 L785.29,207.54 L787.86,207.49 L790.42,207.43 L792.99,207.37 L795.56,207.31 L798.12,207.25 L800.69,207.19 L803.26,207.12 L805.82,207.06 L808.39,206.99 L810.95,206.93 L813.52,206.86 L816.09,206.79 L818.65,206.72 L821.22,206.65 L823.79,206.58 L826.35,206.51 L828.92,206.43 L831.49,206.36 L834.05,206.28 L836.62,206.20 L839.19,206.12 L841.75,206.04 L844.32,205.96 L846.89,205.88 L849.45,205.79 L852.02,205.71 L854.58,205.62 L857.15,205.54 L859.72,205.45 L862.28,205.36 L864.85,205.27 L867.42,205.18 L869.98,205.09 L872.55,204.99 L875.12,204.90 L877.68,204.80 L880.25,204.71 L882.82,204.61 L885.38,204.51 L887.95,204.41 L890.52,204.31 L893.08,204.20 L895.65,204.10 L898.21,203.99 L900.78,203.89 L903.35,203.78 L905.91,203.67 L908.48,203.56 L911.05,203.45 L913.61,203.34 L916.18,203.23 L918.75,203.11 L921.31,203.00 L923.88,202.88 L926.45,202.77 L929.01,202.65 L931.58,202.53 L934.15,202.41 L936.71,202.28 L939.28,202.16 L941.84,202.04 L944.41,201.91 L946.98,201.79 L949.54,201.66 L952.11,201.53 L954.68,201.40 L957.24,201.27 L959.81,201.14 L962.38,201.00 L964.94,200.87 L967.51,200.73 L970.08,200.60 L972.64,200.46 L975.21,200.32 L977.78,200.18 L980.34,200.04 L982.91,199.90 L985.47,199.75 L988.04,199.61 L990.61,199.46 L993.17,199.32 L995.74,199.17 L998.31,199.02 L1000.87,198.87 L1003.44,198.72 L1006.01,198.57 L1008.57,198.41" fill="none" stroke="#4472C4" stroke-width="2.25" stroke-dasharray="5.5 2.6"/>
<circle cx="700.60" cy="209.47" r="4.90" fill="none" stroke="#4472C4" stroke-width="2.05"/>
<circle cx="718.60" cy="209.31" r="4.90" fill="none" stroke="#4472C4" stroke-width="2.05"/>
<circle cx="742.59" cy="209.01" r="4.90" fill="none" stroke="#4472C4" stroke-width="2.05"/>
<circle cx="763.60" cy="208.67" r="4.90" fill="none" stroke="#4472C4" stroke-width="2.05"/>
<circle cx="798.60" cy="207.94" r="4.90" fill="none" stroke="#4472C4" stroke-width="2.05"/>
<circle cx="868.57" cy="205.84" r="4.90" fill="none" stroke="#4472C4" stroke-width="2.05"/>
<circle cx="938.57" cy="202.90" r="4.90" fill="none" stroke="#4472C4" stroke-width="2.05"/>
<circle cx="1008.57" cy="199.11" r="4.90" fill="none" stroke="#4472C4" stroke-width="2.05"/>
<path d="M700.60,181.26 L703.16,181.26 L705.73,181.26 L708.30,181.26 L710.86,181.26 L713.43,181.26 L716.00,181.26 L718.56,181.26 L721.13,181.26 L723.69,181.26 L726.26,181.26 L728.83,181.26 L731.39,181.26 L733.96,181.26 L736.53,181.26 L739.09,181.26 L741.66,181.26 L744.23,181.26 L746.79,181.26 L749.36,181.26 L751.93,181.26 L754.49,181.26 L757.06,181.26 L759.63,181.26 L762.19,181.26 L764.76,181.26 L767.32,181.26 L769.89,181.26 L772.46,181.26 L775.02,181.26 L777.59,181.26 L780.16,181.26 L782.72,181.26 L785.29,181.26 L787.86,181.26 L790.42,181.26 L792.99,181.26 L795.56,181.26 L798.12,181.26 L800.69,181.26 L803.26,181.26 L805.82,181.26 L808.39,181.26 L810.95,181.26 L813.52,181.26 L816.09,181.26 L818.65,181.26 L821.22,181.26 L823.79,181.26 L826.35,181.26 L828.92,181.26 L831.49,181.26 L834.05,181.26 L836.62,181.26 L839.19,181.26 L841.75,181.26 L844.32,181.26 L846.89,181.26 L849.45,181.26 L852.02,181.26 L854.58,181.26 L857.15,181.26 L859.72,181.26 L862.28,181.26 L864.85,181.26 L867.42,181.26 L869.98,181.26 L872.55,181.26 L875.12,181.26 L877.68,181.26 L880.25,181.26 L882.82,181.26 L885.38,181.26 L887.95,181.26 L890.52,181.26 L893.08,181.26 L895.65,181.26 L898.21,181.26 L900.78,181.26 L903.35,181.26 L905.91,181.26 L908.48,181.26 L911.05,181.26 L913.61,181.26 L916.18,181.26 L918.75,181.26 L921.31,181.26 L923.88,181.26 L926.45,181.26 L929.01,181.26 L931.58,181.26 L934.15,181.26 L936.71,181.26 L939.28,181.26 L941.84,181.26 L944.41,181.26 L946.98,181.26 L949.54,181.26 L952.11,181.26 L954.68,181.26 L957.24,181.26 L959.81,181.26 L962.38,181.26 L964.94,181.26 L967.51,181.26 L970.08,181.26 L972.64,181.26 L975.21,181.26 L977.78,181.26 L980.34,181.26 L982.91,181.26 L985.47,181.26 L988.04,181.26 L990.61,181.26 L993.17,181.26 L995.74,181.26 L998.31,181.26 L1000.87,181.26 L1003.44,181.26 L1006.01,181.26 L1008.57,181.26" fill="none" stroke="#C00000" stroke-width="2"/>
<polygon points="700.60,178.45 704.73,186.86 696.46,186.86" fill="none" stroke="#C00000" stroke-width="2.20" stroke-linejoin="miter"/>
<polygon points="718.60,178.45 722.73,186.86 714.46,186.86" fill="none" stroke="#C00000" stroke-width="2.20" stroke-linejoin="miter"/>
<polygon points="742.59,178.45 746.73,186.86 738.46,186.86" fill="none" stroke="#C00000" stroke-width="2.20" stroke-linejoin="miter"/>
<polygon points="763.60,178.45 767.73,186.86 759.47,186.86" fill="none" stroke="#C00000" stroke-width="2.20" stroke-linejoin="miter"/>
<polygon points="798.60,178.45 802.73,186.86 794.47,186.86" fill="none" stroke="#C00000" stroke-width="2.20" stroke-linejoin="miter"/>
<polygon points="868.57,178.45 872.71,186.86 864.44,186.86" fill="none" stroke="#C00000" stroke-width="2.20" stroke-linejoin="miter"/>
<polygon points="938.57,178.45 942.71,186.86 934.44,186.86" fill="none" stroke="#C00000" stroke-width="2.20" stroke-linejoin="miter"/>
<polygon points="1008.57,178.45 1012.71,186.86 1004.44,186.86" fill="none" stroke="#C00000" stroke-width="2.20" stroke-linejoin="miter"/>
<path d="M700.60,175.89 L703.16,175.86 L705.73,175.83 L708.30,175.80 L710.86,175.76 L713.43,175.73 L716.00,175.69 L718.56,175.65 L721.13,175.61 L723.69,175.57 L726.26,175.52 L728.83,175.48 L731.39,175.43 L733.96,175.38 L736.53,175.33 L739.09,175.28 L741.66,175.22 L744.23,175.17 L746.79,175.11 L749.36,175.05 L751.93,174.99 L754.49,174.93 L757.06,174.86 L759.63,174.80 L762.19,174.73 L764.76,174.66 L767.32,174.59 L769.89,174.51 L772.46,174.44 L775.02,174.36 L777.59,174.29 L780.16,174.21 L782.72,174.12 L785.29,174.04 L787.86,173.96 L790.42,173.87 L792.99,173.78 L795.56,173.69 L798.12,173.60 L800.69,173.51 L803.26,173.41 L805.82,173.31 L808.39,173.21 L810.95,173.11 L813.52,173.01 L816.09,172.91 L818.65,172.80 L821.22,172.70 L823.79,172.59 L826.35,172.48 L828.92,172.37 L831.49,172.25 L834.05,172.14 L836.62,172.02 L839.19,171.90 L841.75,171.78 L844.32,171.66 L846.89,171.53 L849.45,171.41 L852.02,171.28 L854.58,171.15 L857.15,171.02 L859.72,170.89 L862.28,170.75 L864.85,170.62 L867.42,170.48 L869.98,170.34 L872.55,170.20 L875.12,170.05 L877.68,169.91 L880.25,169.76 L882.82,169.62 L885.38,169.47 L887.95,169.31 L890.52,169.16 L893.08,169.01 L895.65,168.85 L898.21,168.69 L900.78,168.53 L903.35,168.37 L905.91,168.21 L908.48,168.04 L911.05,167.88 L913.61,167.71 L916.18,167.54 L918.75,167.37 L921.31,167.19 L923.88,167.02 L926.45,166.84 L929.01,166.66 L931.58,166.48 L934.15,166.30 L936.71,166.11 L939.28,165.93 L941.84,165.74 L944.41,165.55 L946.98,165.36 L949.54,165.17 L952.11,164.98 L954.68,164.78 L957.24,164.58 L959.81,164.38 L962.38,164.18 L964.94,163.98 L967.51,163.78 L970.08,163.57 L972.64,163.36 L975.21,163.15 L977.78,162.94 L980.34,162.73 L982.91,162.52 L985.47,162.30 L988.04,162.08 L990.61,161.86 L993.17,161.64 L995.74,161.42 L998.31,161.19 L1000.87,160.97 L1003.44,160.74 L1006.01,160.51 L1008.57,160.28" fill="none" stroke="#C00000" stroke-width="2.25" stroke-dasharray="5.5 2.6"/>
<polygon points="700.60,173.08 704.73,181.49 696.46,181.49" fill="none" stroke="#C00000" stroke-width="2.20" stroke-linejoin="miter"/>
<polygon points="718.60,172.84 722.73,181.25 714.46,181.25" fill="none" stroke="#C00000" stroke-width="2.20" stroke-linejoin="miter"/>
<polygon points="742.59,172.40 746.73,180.80 738.46,180.80" fill="none" stroke="#C00000" stroke-width="2.20" stroke-linejoin="miter"/>
<polygon points="763.60,171.88 767.73,180.29 759.47,180.29" fill="none" stroke="#C00000" stroke-width="2.20" stroke-linejoin="miter"/>
<polygon points="798.60,170.77 802.73,179.18 794.47,179.18" fill="none" stroke="#C00000" stroke-width="2.20" stroke-linejoin="miter"/>
<polygon points="868.57,167.61 872.71,176.02 864.44,176.02" fill="none" stroke="#C00000" stroke-width="2.20" stroke-linejoin="miter"/>
<polygon points="938.57,163.17 942.71,171.58 934.44,171.58" fill="none" stroke="#C00000" stroke-width="2.20" stroke-linejoin="miter"/>
<polygon points="1008.57,157.47 1012.71,165.88 1004.44,165.88" fill="none" stroke="#C00000" stroke-width="2.20" stroke-linejoin="miter"/>
<rect x="771.7" y="35.5" width="259.1" height="100.3" fill="#fff" stroke="#1a1a1a" stroke-width="1.6"/>
<line x1="773.0" y1="55.5" x2="1028.8" y2="55.5" stroke="#1a1a1a" stroke-width="1.6"/>
<line x1="773.0" y1="75.6" x2="1028.8" y2="75.6" stroke="#1a1a1a" stroke-width="1.6"/>
<line x1="773.0" y1="95.7" x2="1028.8" y2="95.7" stroke="#1a1a1a" stroke-width="1.6"/>
<line x1="773.0" y1="115.8" x2="1028.8" y2="115.8" stroke="#1a1a1a" stroke-width="1.6"/>
<line x1="968.2" y1="36.5" x2="968.2" y2="134.8" stroke="#1a1a1a" stroke-width="1.4"/>
<text transform="translate(913.80,49.2) scale(1.2,1)" font-family="Liberation Serif" font-size="16" font-style="italic">ϕ</text>
<text transform="translate(927.50,49.2) scale(1.3,1)" font-family="Liberation Serif" font-size="16">=</text>
<text x="941.30" y="49.2" font-family="Liberation Serif" font-size="16.6">0.2</text>
<text transform="translate(971.80,49.2) scale(1.2,1)" font-family="Liberation Serif" font-size="16" font-style="italic">ϕ</text>
<text transform="translate(985.80,49.2) scale(1.3,1)" font-family="Liberation Serif" font-size="16">=</text>
<text x="999.60" y="49.2" font-family="Liberation Serif" font-size="16.6">0.25</text>
<text x="776.5" y="70.3" font-family="Liberation Serif" font-size="16">Analytical, Δ<tspan font-style="italic">P</tspan> = 140</text>
<path d="M927,65.5 H953" stroke="#4472C4" stroke-width="1.5"/>
<circle cx="940.50" cy="66.10" r="5.00" fill="#4472C4"/>
<path d="M985.5,66.0 H1011" stroke="#C00000" stroke-width="1.5"/>
<polygon points="998.10,61.60 1002.80,71.00 993.40,71.00" fill="#C00000"/>
<text x="776.5" y="90.4" font-family="Liberation Serif" font-size="16">Numerical, Δ<tspan font-style="italic">P</tspan> = 140</text>
<path d="M927.5,85.6 H953.5" stroke="#4472C4" stroke-width="1.5" stroke-dasharray="4.2 3"/>
<circle cx="940.50" cy="86.20" r="5.00" fill="#4472C4"/>
<path d="M985.5,86.1 H1011" stroke="#C00000" stroke-width="1.5" stroke-dasharray="4.2 3"/>
<polygon points="998.10,81.70 1002.80,91.10 993.40,91.10" fill="#C00000"/>
<text x="776.5" y="110.5" font-family="Liberation Serif" font-size="16">Analytical, Δ<tspan font-style="italic">P</tspan> = 0</text>
<path d="M927,105.7 H953" stroke="#4472C4" stroke-width="1.5"/>
<circle cx="940.50" cy="106.30" r="4.65" fill="none" stroke="#4472C4" stroke-width="2.05"/>
<path d="M985.5,106.2 H1011" stroke="#C00000" stroke-width="1.5"/>
<polygon points="998.10,103.36 1002.08,110.90 994.12,110.90" fill="none" stroke="#C00000" stroke-width="2.20" stroke-linejoin="miter"/>
<text x="776.5" y="130.6" font-family="Liberation Serif" font-size="16">Numerical, Δ<tspan font-style="italic">P</tspan> = 0</text>
<path d="M927.5,125.8 H953.5" stroke="#4472C4" stroke-width="1.5" stroke-dasharray="4.2 3"/>
<circle cx="940.50" cy="126.40" r="4.65" fill="none" stroke="#4472C4" stroke-width="2.05"/>
<path d="M985.5,126.3 H1011" stroke="#C00000" stroke-width="1.5" stroke-dasharray="4.2 3"/>
<polygon points="998.10,123.46 1002.08,131.00 994.12,131.00" fill="none" stroke="#C00000" stroke-width="2.20" stroke-linejoin="miter"/>
</svg>
</body></html>
